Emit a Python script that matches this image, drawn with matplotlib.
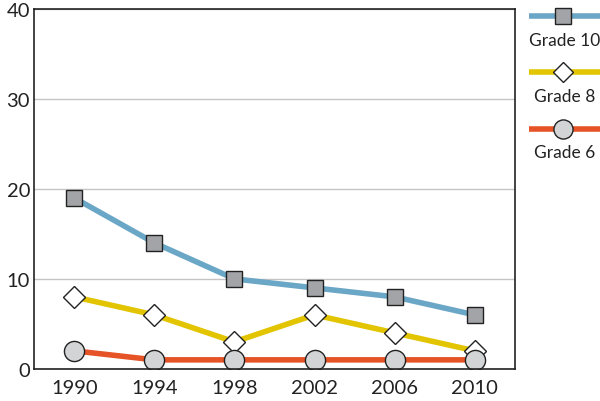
import matplotlib
matplotlib.use("Agg")
import matplotlib.pyplot as plt

plt.rcParams['font.family'] = ['Lato', 'DejaVu Sans']

years = [1990, 1994, 1998, 2002, 2006, 2010]
grade10 = [19, 14, 10, 9, 8, 6]
grade8 = [8, 6, 3, 6, 4, 2]
grade6 = [2, 1, 1, 1, 1, 1]

series = [
    ("Grade 10", grade10, "#6aa6c6", "s", "#a3a4a8", 12),
    ("Grade 8", grade8, "#e2c500", "D", "white", 11),
    ("Grade 6", grade6, "#e65326", "o", "#d3d4d6", 14.5),
]

fig = plt.figure(figsize=(6, 4.02), dpi=100)
ax = fig.add_axes([0.057, 0.080, 0.801, 0.895])

for name, vals, col, mk, fc, ms in series:
    ax.plot(years, vals, color=col, lw=4, marker=mk, markersize=ms,
            markerfacecolor=fc, markeredgecolor="#222222", markeredgewidth=1.0,
            solid_capstyle="butt")

ax.set_xlim(1988, 2012)
ax.set_ylim(0, 40)
ax.set_xticks(years)
ax.set_yticks([0, 10, 20, 30, 40])
ax.tick_params(length=0, labelsize=14.5, colors="#222222", pad=7)
ax.tick_params(axis="y", pad=3)
ax.yaxis.grid(True, color="#c4c4c4", lw=1)
ax.set_axisbelow(True)
for s in ax.spines.values():
    s.set_color("#222222")
    s.set_linewidth(1.2)

# legend drawn at the right side
lax = fig.add_axes([0.875, 0.55, 0.125, 0.45])
lax.set_xlim(0, 1)
lax.set_ylim(0, 1)
lax.axis("off")
for i, (name, vals, col, mk, fc, ms) in enumerate(series):
    yy = 0.906 - i * 0.312
    lax.plot([0.05, 1.0], [yy, yy], color=col, lw=4, solid_capstyle="butt")
    lax.plot([0.5], [yy], marker=mk, markersize=ms * 0.95, markerfacecolor=fc,
             markeredgecolor="#222222", markeredgewidth=1.0, color=col)
    lax.text(0.53, yy - 0.13, name, ha="center", va="center", fontsize=12.5,
             color="#222222")

fig.savefig("out.png", dpi=100)
